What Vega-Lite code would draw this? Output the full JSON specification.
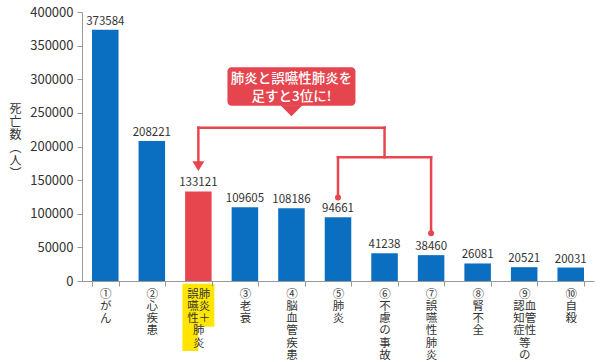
{
  "$schema": "https://vega.github.io/schema/vega-lite/v6.json",
  "width": 512,
  "height": 269,
  "autosize": {"type": "none"},
  "padding": {"left": 82, "top": 12, "right": 6, "bottom": 81},
  "background": "white",
  "config": {"font": "Noto Sans CJK JP", "view": {"stroke": null}},
  "datasets": {
    "deaths": [
      {"cause": "①がん", "deaths": 373584},
      {"cause": "②心疾患", "deaths": 208221},
      {"cause": "肺炎＋誤嚥性肺炎", "deaths": 133121},
      {"cause": "③老衰", "deaths": 109605},
      {"cause": "④脳血管疾患", "deaths": 108186},
      {"cause": "⑤肺炎", "deaths": 94661},
      {"cause": "⑥不慮の事故", "deaths": 41238},
      {"cause": "⑦誤嚥性肺炎", "deaths": 38460},
      {"cause": "⑧腎不全", "deaths": 26081},
      {"cause": "⑨血管性等の認知症", "deaths": 20521},
      {"cause": "⑩自殺", "deaths": 20031}
    ],
    "bracket": [
      {"from": "肺炎＋誤嚥性肺炎", "to": "⑥不慮の事故", "y1": 228000, "y2": 228000},
      {"from": "⑥不慮の事故", "to": "⑥不慮の事故", "y1": 228000, "y2": 184000},
      {"from": "⑤肺炎", "to": "⑦誤嚥性肺炎", "y1": 184000, "y2": 184000},
      {"from": "⑤肺炎", "to": "⑤肺炎", "y1": 184000, "y2": 124000},
      {"from": "⑦誤嚥性肺炎", "to": "⑦誤嚥性肺炎", "y1": 184000, "y2": 71000},
      {"from": "肺炎＋誤嚥性肺炎", "to": "肺炎＋誤嚥性肺炎", "y1": 228000, "y2": 177000}
    ],
    "dots": [
      {"cause": "⑤肺炎", "y": 124000},
      {"cause": "⑦誤嚥性肺炎", "y": 71000}
    ]
  },
  "encoding": {
    "x": {
      "field": "cause",
      "type": "nominal",
      "sort": null,
      "scale": {
        "domain": ["①がん", "②心疾患", "肺炎＋誤嚥性肺炎", "③老衰", "④脳血管疾患", "⑤肺炎", "⑥不慮の事故", "⑦誤嚥性肺炎", "⑧腎不全", "⑨血管性等の認知症", "⑩自殺"],
        "paddingInner": 0.43,
        "paddingOuter": 0.215
      },
      "axis": {
        "title": null,
        "labelAngle": 0,
        "labelAlign": "center",
        "labelBaseline": "top",
        "labelFontSize": 11.5,
        "labelLineHeight": 12.3,
        "labelColor": "#333333",
        "labelPadding": 2,
        "labelLimit": 0,
        "tickSize": 5,
        "tickColor": "#999999",
        "tickBand": "extent",
        "domainColor": "#999999",
        "zindex": 1,
        "labelExpr": "datum.label === '肺炎＋誤嚥性肺炎' ? ['誤肺','嚥炎','性＋','肺　','炎　'] : datum.label === '⑨血管性等の認知症' ? ['　⑨','認血','知管','症性','　等','　の'] : split(datum.label, '')"
      }
    },
    "y": {
      "type": "quantitative",
      "scale": {"domain": [0, 400000], "nice": false, "zero": false},
      "axis": {
        "title": ["死", "亡", "数", "︵", "人", "︶"],
        "titleAngle": 0,
        "titleAlign": "center",
        "titleBaseline": "top",
        "titleX": -67,
        "titleY": 91,
        "titleFontSize": 12,
        "titleFontWeight": "normal",
        "titleLineHeight": 13,
        "titleColor": "#333333",
        "values": [0, 50000, 100000, 150000, 200000, 250000, 300000, 350000, 400000],
        "format": "d",
        "labelFontSize": 13,
        "labelColor": "#333333",
        "labelPadding": 4,
        "tickSize": 5,
        "tickColor": "#999999",
        "domainColor": "#999999",
        "gridDash": [4, 3],
        "gridColor": "#bbbbbb"
      }
    }
  },
  "layer": [
    {
      "data": {"values": [{}]},
      "mark": {"type": "bar", "width": 16, "xOffset": -8, "color": "#ffe500", "clip": false},
      "encoding": {
        "x": {"datum": "肺炎＋誤嚥性肺炎"},
        "y": {"datum": -4000},
        "y2": {"datum": -104000}
      }
    },
    {
      "data": {"values": [{}]},
      "mark": {"type": "bar", "width": 16, "xOffset": 8, "color": "#ffe500", "clip": false},
      "encoding": {
        "x": {"datum": "肺炎＋誤嚥性肺炎"},
        "y": {"datum": -4000},
        "y2": {"datum": -68000}
      }
    },
    {
      "data": {"name": "deaths"},
      "mark": {"type": "bar"},
      "encoding": {
        "y": {"field": "deaths", "type": "quantitative"},
        "color": {
          "condition": {"test": "datum.cause === '肺炎＋誤嚥性肺炎'", "value": "#e8464f"},
          "value": "#0b6fc1"
        }
      }
    },
    {
      "data": {"name": "deaths"},
      "mark": {"type": "text", "baseline": "bottom", "dy": -3, "fontSize": 11.5, "color": "#333333"},
      "encoding": {
        "y": {"field": "deaths", "type": "quantitative"},
        "text": {"field": "deaths", "type": "quantitative", "format": "d"}
      }
    },
    {
      "data": {"name": "bracket"},
      "mark": {"type": "rule", "color": "#e8464f", "strokeWidth": 2.5, "strokeCap": "square"},
      "encoding": {
        "x": {"field": "from", "type": "nominal"},
        "x2": {"field": "to"},
        "y": {"field": "y1", "type": "quantitative"},
        "y2": {"field": "y2"}
      }
    },
    {
      "data": {"name": "dots"},
      "mark": {"type": "point", "shape": "circle", "filled": true, "size": 36, "opacity": 1, "color": "#e8464f"},
      "encoding": {
        "x": {"field": "cause", "type": "nominal"},
        "y": {"field": "y", "type": "quantitative"}
      }
    },
    {
      "data": {"values": [{}]},
      "mark": {"type": "point", "shape": "M-1,0L1,0L0,1.6Z", "filled": true, "size": 144, "opacity": 1, "color": "#e8464f"},
      "encoding": {
        "x": {"datum": "肺炎＋誤嚥性肺炎"},
        "y": {"datum": 178000}
      }
    },
    {
      "data": {"values": [{}]},
      "mark": {"type": "bar", "width": 128, "cornerRadius": 4, "color": "#e5454e"},
      "encoding": {
        "x": {"datum": "④脳血管疾患"},
        "y": {"datum": 318000},
        "y2": {"datum": 260500}
      }
    },
    {
      "data": {"values": [{}]},
      "mark": {"type": "point", "shape": "M-1,0L1,0L0,1Z", "filled": true, "size": 484, "opacity": 1, "color": "#e5454e"},
      "encoding": {
        "x": {"datum": "④脳血管疾患"},
        "y": {"datum": 261500}
      }
    },
    {
      "data": {"values": [{}]},
      "mark": {"type": "text", "text": ["肺炎と誤嚥性肺炎を", "足すと3位に!"], "color": "white", "fontSize": 13.5, "fontWeight": 500, "lineHeight": 18, "baseline": "middle", "align": "center"},
      "encoding": {
        "x": {"datum": "④脳血管疾患"},
        "y": {"datum": 300000}
      }
    }
  ]
}
